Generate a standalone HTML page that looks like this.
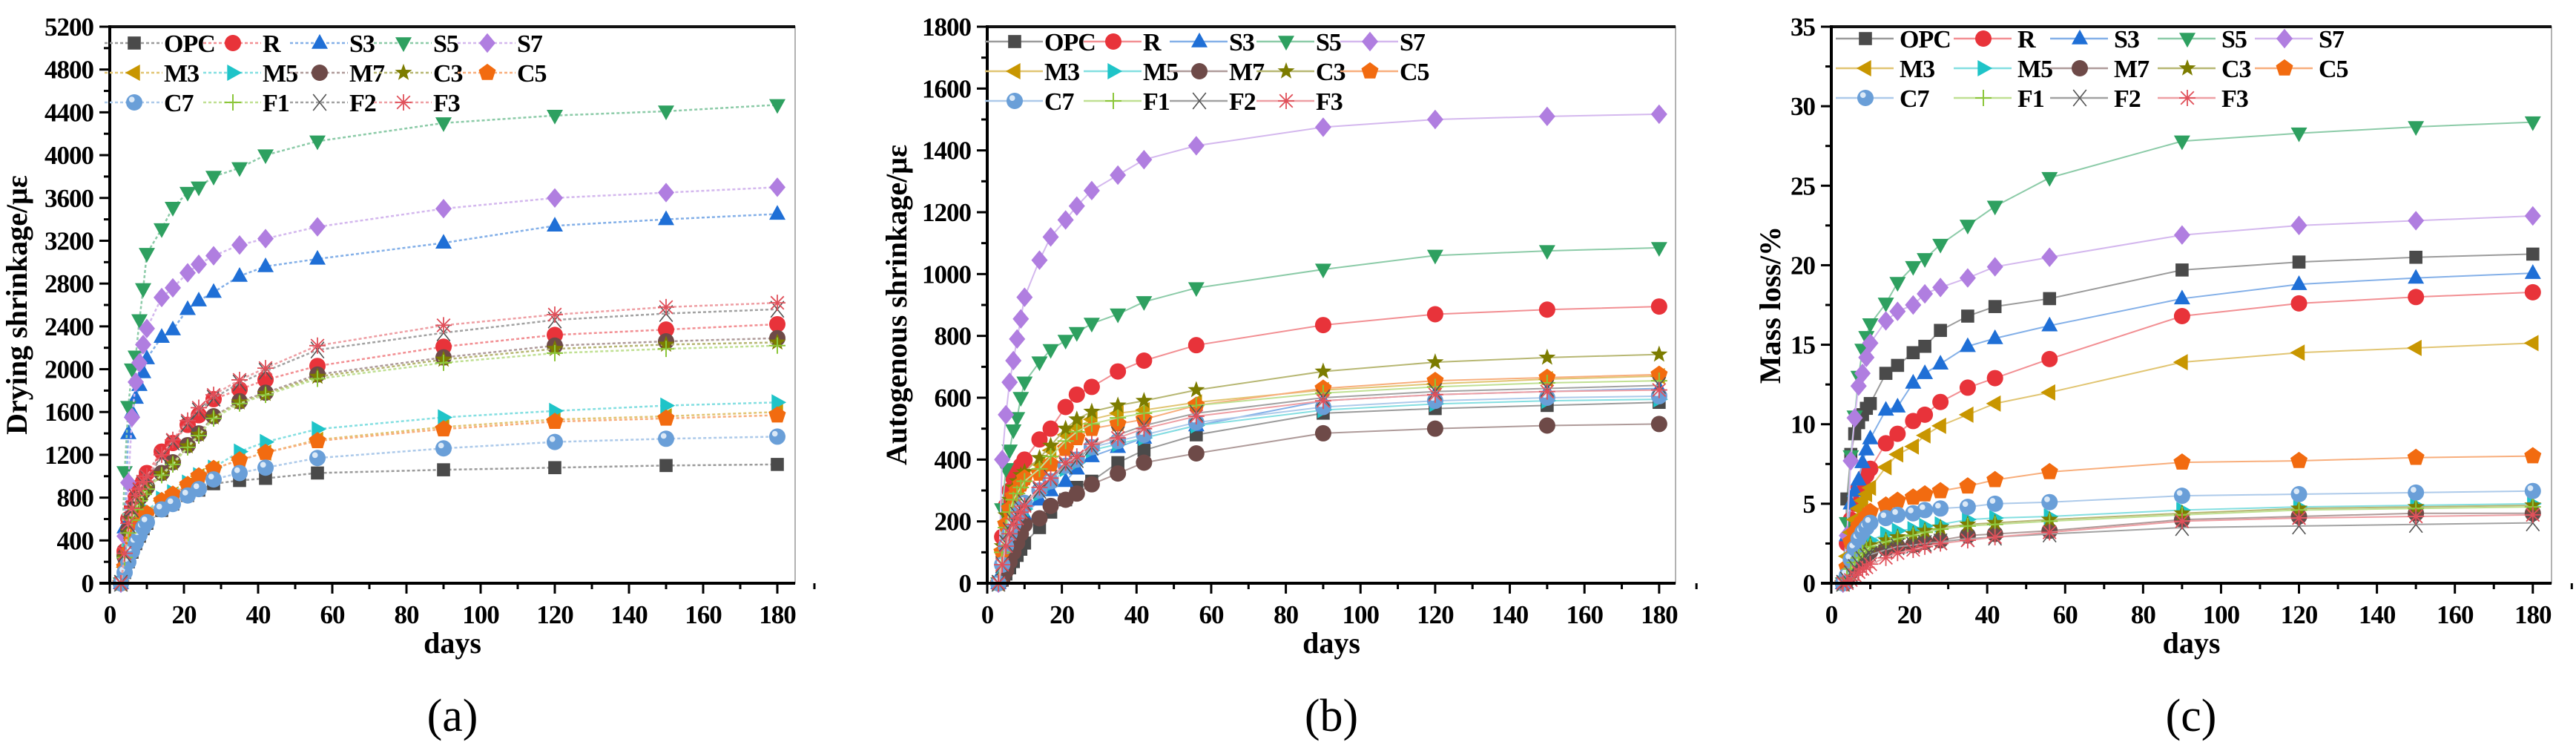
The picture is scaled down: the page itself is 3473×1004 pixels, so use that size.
<!DOCTYPE html>
<html><head><meta charset="utf-8"><style>
html,body{margin:0;padding:0;background:#fff;}
svg{display:block;}
text{font-family:"Liberation Serif",serif;}
</style></head><body>
<svg id="fig" xmlns="http://www.w3.org/2000/svg" width="3473" height="1004" viewBox="0 0 3473 1004"></svg>
<script>
const days = [3,4,5,6,7,8,9,10,14,17,21,24,28,35,42,56,90,120,150,180];
const seriesNames = ["OPC","R","S3","S5","S7","M3","M5","M7","C3","C5","C7","F1","F2","F3"];
const seriesColors = ["#4a4a4a","#e8333a","#1f6fd6","#2ea060","#b07ee0","#c89600","#1fc4c8","#6e4a48","#7c7c00","#f26b10","#6a9fd8","#8cc63a","#555555","#e0505a"];
const seriesMarkers = ["square","circle","tri-up","tri-down","diamond","tri-left","tri-right","circle","star","pentagon","sphere","plus","x","asterisk"];

// Panel (a) drying shrinkage values
const dryOPC = [0,100,200,290,370,440,510,560,680,740,820,870,930,960,980,1030,1060,1080,1100,1110];
const dryR   = [0,300,600,720,800,900,950,1030,1230,1310,1480,1570,1720,1810,1900,2030,2210,2320,2370,2420];
const dryS3  = [0,520,1400,1600,1730,1850,1970,2100,2300,2370,2560,2640,2720,2870,2960,3030,3180,3340,3400,3450];
const dryS5  = [0,1040,1650,2000,2120,2460,2750,3080,3310,3510,3650,3700,3800,3880,4000,4130,4300,4370,4410,4470];
const dryS7  = [0,440,940,1550,1880,2060,2230,2380,2670,2760,2900,2980,3060,3160,3220,3330,3500,3600,3650,3700];
const dryM3  = [0,150,290,400,480,550,610,650,770,830,920,1000,1070,1150,1220,1340,1460,1530,1560,1600];
const dryM5  = [0,150,300,420,500,570,630,680,790,850,940,1010,1080,1230,1320,1440,1550,1610,1660,1690];
const dryM7  = [0,250,500,620,720,800,860,900,1030,1130,1290,1400,1560,1700,1780,1950,2110,2220,2260,2290];
const dryC3  = [0,240,480,600,700,780,840,890,1020,1120,1280,1390,1550,1690,1770,1930,2090,2190,2230,2250];
const dryC5  = [0,150,290,400,480,550,610,650,770,830,920,1000,1070,1150,1220,1330,1440,1510,1540,1570];
const dryC7  = [0,100,200,300,380,450,520,570,690,740,820,880,970,1030,1080,1170,1260,1320,1350,1370];
const dryF1  = [0,240,470,590,690,770,830,880,1010,1110,1270,1380,1540,1680,1760,1910,2060,2150,2190,2220];
const dryF2  = [0,270,550,690,800,860,930,980,1180,1320,1490,1610,1730,1870,1980,2180,2340,2460,2520,2560];
const dryF3  = [0,280,560,700,820,880,950,1000,1200,1340,1520,1640,1760,1900,2010,2220,2410,2510,2580,2620];

// Panel (b) autogenous shrinkage values
const autoOPC = [0,10,30,50,70,90,110,130,180,230,270,310,330,390,430,480,550,565,575,585];
const autoR   = [0,150,250,300,340,360,380,400,465,500,570,610,635,685,720,770,835,870,885,895];
const autoS3  = [0,40,80,110,140,170,200,220,270,300,330,370,410,440,470,510,590,610,620,630];
const autoS5  = [0,240,370,430,495,535,600,650,715,755,785,810,840,870,910,955,1015,1060,1075,1085];
const autoS7  = [0,400,545,650,720,790,855,925,1045,1120,1175,1220,1270,1320,1370,1415,1475,1500,1510,1517];
const autoM3  = [0,110,200,250,290,310,330,345,385,430,480,505,530,550,560,585,625,645,660,670];
const autoM5  = [0,50,100,140,170,200,220,240,290,320,370,390,430,450,470,510,560,580,590,595];
const autoM7  = [0,10,40,70,100,130,160,190,210,250,270,290,320,355,390,420,485,500,510,515];
const autoC3  = [0,120,220,270,310,330,350,360,405,445,500,530,555,575,590,625,685,715,730,740];
const autoC5  = [0,100,190,240,280,300,320,340,355,385,435,470,500,515,530,575,630,655,665,675];
const autoC7  = [0,60,120,160,190,220,240,260,300,330,380,400,440,460,480,520,570,590,600,605];
const autoF1  = [0,100,180,230,270,290,310,330,370,410,460,490,515,535,550,575,615,635,648,655];
const autoF2  = [0,60,130,170,200,220,240,260,300,340,380,400,440,480,510,550,600,620,630,640];
const autoF3  = [0,60,120,160,190,210,230,250,310,340,390,410,450,470,500,540,590,610,620,625];

// Panel (c) mass loss values
const massOPC = [0,5.3,8.1,9.4,10.1,10.6,11,11.3,13.2,13.7,14.5,14.9,15.9,16.8,17.4,17.9,19.7,20.2,20.5,20.7];
const massR   = [0,2.5,4,5,6,6.4,6.8,7.2,8.8,9.4,10.2,10.6,11.4,12.3,12.9,14.1,16.8,17.6,18,18.3];
const massS3  = [0,3,5,5.8,6.5,7.6,8.4,9.1,10.9,11.1,12.6,13.2,13.8,14.9,15.4,16.2,17.9,18.8,19.2,19.5];
const massS5  = [0,3.8,8,10.5,13,14.7,15.5,16.3,17.6,18.9,19.9,20.4,21.3,22.5,23.7,25.5,27.8,28.3,28.7,29.0];
const massS7  = [0,3,7.7,10.4,12.4,13.2,14.2,15.1,16.5,17.1,17.5,18.2,18.6,19.2,19.9,20.5,21.9,22.5,22.8,23.1];
const massM3  = [0,1.7,3.2,4,4.7,5.2,5.6,6,7.3,8.1,8.6,9.3,9.9,10.6,11.3,12,13.9,14.5,14.8,15.1];
const massM5  = [0,0.4,1.2,1.7,2.1,2.4,2.6,2.7,3.1,3.3,3.4,3.6,3.7,4,4.1,4.2,4.6,4.8,4.9,5];
const massM7  = [0,0.2,0.7,1.1,1.4,1.6,1.8,2,2.2,2.3,2.4,2.6,2.7,3,3.1,3.3,4,4.2,4.4,4.4];
const massC3  = [0,0.3,1,1.4,1.7,2,2.2,2.4,2.7,2.9,3.1,3.3,3.5,3.7,3.8,4,4.4,4.7,4.8,4.9];
const massC5  = [0,1,2.6,3.2,3.6,3.9,4.2,4.5,4.9,5.2,5.4,5.6,5.8,6.1,6.5,7,7.6,7.7,7.9,8];
const massC7  = [0,0.5,1.5,2.2,2.8,3.2,3.5,3.8,4.1,4.3,4.4,4.6,4.7,4.8,5,5.1,5.5,5.6,5.7,5.8];
const massF1  = [0,0.3,0.9,1.3,1.6,1.9,2.1,2.3,2.6,2.8,3,3.2,3.4,3.6,3.7,3.9,4.3,4.6,4.7,4.8];
const massF2  = [0,0.2,0.6,1,1.2,1.5,1.7,1.8,2.1,2.3,2.4,2.5,2.6,2.8,2.9,3.1,3.5,3.6,3.7,3.8];
const massF3  = [0,0,0.2,0.5,0.7,0.9,1,1.2,1.6,1.9,2.1,2.3,2.5,2.7,2.9,3.2,3.9,4.1,4.2,4.3];

const yTicksA = ["0","400","800","1200","1600","2000","2400","2800","3200","3600","4000","4400","4800","5200"];
const yTicksB = ["0","200","400","600","800","1000","1200","1400","1600","1800"];
const yTicksC = ["0","5","10","15","20","25","30","35"];
const xTicks = ["0","20","40","60","80","100","120","140","160","180"];

const NS="http://www.w3.org/2000/svg";
const svg=document.getElementById('fig');
function mk(tag,attrs,parent){const e=document.createElementNS(NS,tag);for(const k in attrs)e.setAttribute(k,attrs[k]);(parent||svg).appendChild(e);return e;}
function lighten(hex,f){const n=parseInt(hex.slice(1),16);let r=n>>16,g=(n>>8)&255,b=n&255;r=Math.round(r+(255-r)*f);g=Math.round(g+(255-g)*f);b=Math.round(b+(255-b)*f);return `rgb(${r},${g},${b})`;}

function marker(g,type,x,y,c,s){
  let e;
  if(type==="square"){e=mk('rect',{x:x-s*0.8,y:y-s*0.8,width:s*1.6,height:s*1.6,fill:c},g);}
  else if(type==="circle"){e=mk('circle',{cx:x,cy:y,r:s,fill:c},g);}
  else if(type==="sphere"){e=mk('circle',{cx:x,cy:y,r:s,fill:c},g);const h=mk('circle',{cx:x-s*0.3,cy:y-s*0.35,r:s*0.35,fill:"#dbe9f7"},g);}
  else if(type==="tri-up"){e=mk('polygon',{points:`${x},${y-s*1.1} ${x-s},${y+s*0.7} ${x+s},${y+s*0.7}`,fill:c},g);}
  else if(type==="tri-down"){e=mk('polygon',{points:`${x},${y+s*1.1} ${x-s},${y-s*0.7} ${x+s},${y-s*0.7}`,fill:c},g);}
  else if(type==="tri-left"){e=mk('polygon',{points:`${x-s*1.1},${y} ${x+s*0.7},${y-s} ${x+s*0.7},${y+s}`,fill:c},g);}
  else if(type==="tri-right"){e=mk('polygon',{points:`${x+s*1.1},${y} ${x-s*0.7},${y-s} ${x-s*0.7},${y+s}`,fill:c},g);}
  else if(type==="diamond"){e=mk('polygon',{points:`${x},${y-s*1.2} ${x+s},${y} ${x},${y+s*1.2} ${x-s},${y}`,fill:c},g);}
  else if(type==="pentagon"){let p=[];for(let i=0;i<5;i++){const a=-Math.PI/2+i*2*Math.PI/5;p.push((x+s*1.1*Math.cos(a))+","+(y+s*1.1*Math.sin(a)));}e=mk('polygon',{points:p.join(' '),fill:c},g);}
  else if(type==="star"){let p=[];for(let i=0;i<10;i++){const a=-Math.PI/2+i*Math.PI/5;const r=i%2?s*0.45:s*1.1;p.push((x+r*Math.cos(a))+","+(y+r*Math.sin(a)));}e=mk('polygon',{points:p.join(' '),fill:c},g);}
  else if(type==="plus"){e=mk('path',{d:`M${x-s},${y}H${x+s}M${x},${y-s}V${y+s}`,stroke:c,'stroke-width':2,fill:'none'},g);}
  else if(type==="x"){e=mk('path',{d:`M${x-s*0.8},${y-s}L${x+s*0.8},${y+s}M${x+s*0.8},${y-s}L${x-s*0.8},${y+s}`,stroke:c,'stroke-width':1.6,fill:'none'},g);}
  else {e=mk('path',{d:`M${x-s*0.8},${y-s*0.8}L${x+s*0.8},${y+s*0.8}M${x+s*0.8},${y-s*0.8}L${x-s*0.8},${y+s*0.8}M${x},${y-s}V${y+s}M${x-s},${y}H${x+s}`,stroke:c,'stroke-width':1.8,fill:'none'},g);}
  return e;
}

function panel(cfg){
  const g=mk('g',{});
  
  
  const L=cfg.left,R=cfg.right,T=36,B=786;
  const xs=d=>L+(d/cfg.xmax)*(R-L);
  const ys=v=>B-(v/cfg.ymax)*(B-T);
  const fr=mk('rect',{x:L,y:T,width:R-L,height:B-T,fill:'none',stroke:'#999','stroke-width':1.5},g);
  
  const tl=mk('line',{x1:L,y1:T,x2:R,y2:T,stroke:'#111','stroke-width':4},g);
  
  const sg=mk('g',{},g);
  
  for(let i=0;i<seriesNames.length;i++){
    const vals=cfg.data[i];const c=seriesColors[i];
    const pts=days.map((d,k)=>xs(d)+","+ys(vals[k])).join(' ');
    const ln=mk('polyline',{points:pts,fill:'none',stroke:lighten(c,0.45),'stroke-width':cfg.dotted?2.5:2,'stroke-dasharray':cfg.dotted?'4 3':'none'},sg);
    
    
    days.forEach((d,k)=>{const m=marker(sg,seriesMarkers[i],xs(d),ys(vals[k]),c,11);
      
      });
  }
  const ya=mk('line',{x1:L,y1:T-2,x2:L,y2:B+2,stroke:'#000','stroke-width':4},g);
  
  const xa=mk('line',{x1:L-14,y1:B,x2:R,y2:B,stroke:'#000','stroke-width':4},g);
  
  cfg.yTicks.forEach((lab,i)=>{
    const v=i*cfg.ystep;const y=ys(v);
    mk('line',{x1:L-14,y1:y,x2:L,y2:y,stroke:'#000','stroke-width':3},g);
    if(i<cfg.yTicks.length-1){const ym=ys(v+cfg.ystep/2);mk('line',{x1:L-8,y1:ym,x2:L,y2:ym,stroke:'#000','stroke-width':3},g);}
    const t=mk('text',{x:L-22,y:y+12,'text-anchor':'end','font-size':35,'font-weight':'bold','letter-spacing':-1},g);t.textContent=lab;
    
  });
  xTicks.forEach((lab,i)=>{
    const d=i*20;const x=xs(d);
    mk('line',{x1:x,y1:B,x2:x,y2:B+14,stroke:'#000','stroke-width':3},g);
    const xm=xs(d+10);mk('line',{x1:xm,y1:B,x2:xm,y2:B+8,stroke:'#000','stroke-width':3},g);
    const t=mk('text',{x:x,y:B+54,'text-anchor':'middle','font-size':35,'font-weight':'bold','letter-spacing':-1},g);t.textContent=lab;
    
  });
  const xt=mk('text',{x:(L+R)/2,y:B+94,'text-anchor':'middle','font-size':40,'font-weight':'bold'},g);xt.textContent='days';
  
  const yt=mk('text',{x:0,y:0,'text-anchor':'middle','font-size':40,'font-weight':'bold',transform:`translate(${cfg.ytx},411) rotate(-90)`},g);yt.textContent=cfg.ytitle;
  
  const cap=mk('text',{x:cfg.capx,y:985,'text-anchor':'middle','font-size':62},g);cap.textContent=cfg.caption;
  
  const rows=[cfg.legY,cfg.legY+40,cfg.legY+80];
  for(let i=0;i<seriesNames.length;i++){
    const r=Math.floor(i/5),col=i%5;
    const mx=L+cfg.legCols[col],my=rows[r];
    const lg=mk('g',{},g);
    
    
    mk('line',{x1:mx-40,y1:my,x2:mx+38,y2:my,stroke:lighten(seriesColors[i],0.45),'stroke-width':2.5,'stroke-dasharray':cfg.dotted?'4 3':'none'},lg);
    marker(lg,seriesMarkers[i],mx,my,seriesColors[i],11);
    const t=mk('text',{x:mx+cfg.legText,y:my+12,'font-size':34,'font-weight':'bold','letter-spacing':-1},lg);t.textContent=seriesNames[i];
  }
}

panel({id:'drying',left:148,right:1072,xmax:184.8,ymax:5200,ystep:400,yTicks:yTicksA,dotted:true,
  data:[dryOPC,dryR,dryS3,dryS5,dryS7,dryM3,dryM5,dryM7,dryC3,dryC5,dryC7,dryF1,dryF2,dryF3],
  ytitle:'Drying shrinkage/με',ytx:36,capx:610,caption:'(a)',legY:58,legCols:[33,166,283,396,509],legText:40});
panel({id:'autogenous',left:1331,right:2259,xmax:184.4,ymax:1800,ystep:200,yTicks:yTicksB,dotted:false,
  data:[autoOPC,autoR,autoS3,autoS5,autoS7,autoM3,autoM5,autoM7,autoC3,autoC5,autoC7,autoF1,autoF2,autoF3],
  ytitle:'Autogenous shrinkage/με',ytx:1222,capx:1795,caption:'(b)',legY:56,legCols:[37,170,286,403,516],legText:40});
panel({id:'mass-loss',left:2469,right:3440,xmax:184.8,ymax:35,ystep:5,yTicks:yTicksC,dotted:false,
  data:[massOPC,massR,massS3,massS5,massS7,massM3,massM5,massM7,massC3,massC5,massC7,massF1,massF2,massF3],
  ytitle:'Mass loss/%',ytx:2400,capx:2954,caption:'(c)',legY:52,legCols:[46,205,335,480,611],legText:46});
</script>
</body></html>
